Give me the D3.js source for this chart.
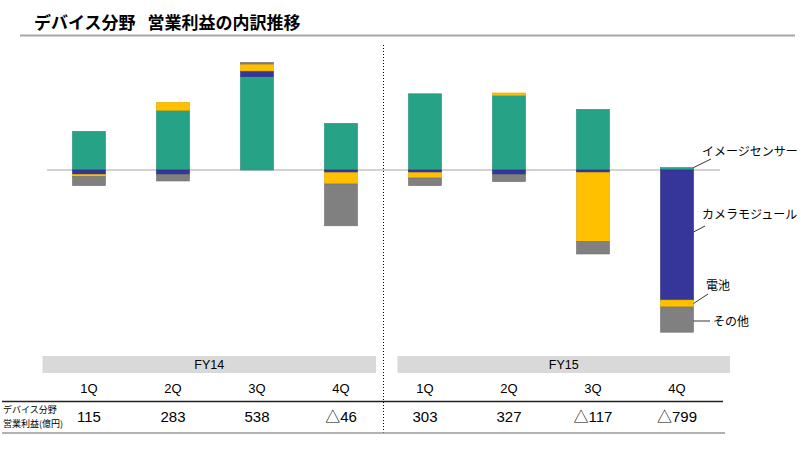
<!DOCTYPE html>
<html><head><meta charset="utf-8">
<script src="https://cdn.jsdelivr.net/npm/d3@7"></script>
<style>
body{margin:0;background:#fff;}
text{font-family:"Liberation Sans","Noto Sans CJK JP",sans-serif;}
.jp{font-family:"Noto Sans CJK JP","Liberation Sans",sans-serif;}
</style></head>
<body>
<svg id="c" width="800" height="450"></svg>
<script>
const quarters = ["FY14-1Q","FY14-2Q","FY14-3Q","FY14-4Q","FY15-1Q","FY15-2Q","FY15-3Q","FY15-4Q"];
const quarterLabels = ["1Q","2Q","3Q","4Q","1Q","2Q","3Q","4Q"];
const years = ["FY14","FY15"];
const seriesNames = ["イメージセンサー","カメラモジュール","電池","その他"];
const imageSensor = [193, 298, 467, 233, 381, 373, 303, 12];
const cameraModule = [-22, -22, 28, -13, -13, -23, -12, -650];
const battery = [-10, 40, 35, -57, -27, 12, -345, -35];
const other = [-46, -33, 8, -209, -38, -35, -63, -126];
const totalLabels = ["115","283","538","△46","303","327","△117","△799"];
const colors = ["#26A386","#35359A","#FFC000","#808080"];

const svg = d3.select("#c");
const keys = ["s0","s1","s2","s3"];
const rows = quarters.map((q,i)=>({q, s0:imageSensor[i], s1:cameraModule[i], s2:battery[i], s3:other[i]}));

const x = d3.scaleBand().domain(quarters).range([47,719]).paddingInner(0.607).paddingOuter(0.3035);
const y = d3.scaleLinear().domain([-1000, 850]).range([370, 0]);

// title
const title = svg.append("text").attr("class","jp").attr("x",34).attr("y",29).attr("font-size",17).attr("font-weight","bold").attr("fill","#000");
title.append("tspan").text("デバイス分野");
title.append("tspan").attr("dx",12).text("営業利益の内訳推移");
svg.append("line").attr("x1",20).attr("x2",795).attr("y1",35.5).attr("y2",35.5).attr("stroke","#a6a6a6").attr("stroke-width",2);

// zero line
svg.append("line").attr("x1",47).attr("x2",720).attr("y1",y(0)).attr("y2",y(0)).attr("stroke","#a6a6a6").attr("stroke-width",1);

const stack = d3.stack().keys(keys).offset(d3.stackOffsetDiverging);
const stacked = stack(rows);
stacked.forEach((layer,li)=>{
  svg.append("g").selectAll("rect").data(layer).join("rect")
    .attr("x", d=>x(d.data.q))
    .attr("width", x.bandwidth())
    .attr("y", d=>y(Math.max(d[0],d[1])))
    .attr("height", d=>Math.abs(y(d[0])-y(d[1])))
    .attr("fill", colors[li])
    .attr("stroke", d3.color(colors[li]).darker(0.4))
    .attr("stroke-width", 0.6);
});

// series labels with leader lines (pointing at last bar)
const last = rows[rows.length-1];
const lastX = x(last.q) + x.bandwidth();
const layerLast = stacked.map(l=>l[l.length-1]);
const lab = [
  {t:seriesNames[0], tx:702, ty:156, lx2:711, ly2:159, ly1: y(layerLast[0][1])},
  {t:seriesNames[1], tx:702, ty:219, lx2:705, ly2:226, ly1: 232},
  {t:seriesNames[2], tx:706, ty:290, lx2:708, ly2:294, ly1: y((layerLast[2][0]+layerLast[2][1])/2)},
  {t:seriesNames[3], tx:713, ty:326, lx2:710, ly2:321, ly1: 321}
];
lab.forEach(d=>{
  svg.append("line").attr("x1",lastX).attr("y1",d.ly1).attr("x2",d.lx2).attr("y2",d.ly2).attr("stroke","#000").attr("stroke-width",0.8);
  svg.append("text").attr("class","jp").attr("x",d.tx).attr("y",d.ty).attr("font-size",12).attr("fill","#000").text(d.t);
});

// divider
svg.append("line").attr("x1",383.5).attr("x2",383.5).attr("y1",45).attr("y2",433).attr("stroke","#000").attr("stroke-width",1).attr("stroke-dasharray","1,2");

// year bands
const yearRanges = [[42.5,376],[397.5,730]];
years.forEach((yr,i)=>{
  svg.append("rect").attr("x",yearRanges[i][0]).attr("y",356).attr("width",yearRanges[i][1]-yearRanges[i][0]).attr("height",17).attr("fill","#d9d9d9");
  svg.append("text").attr("x",(yearRanges[i][0]+yearRanges[i][1])/2).attr("y",369).attr("text-anchor","middle").attr("font-size",12.5).attr("fill","#000").text(yr);
});

// quarter labels
svg.append("g").selectAll("text").data(quarters).join("text")
  .attr("x", d=>x(d)+x.bandwidth()/2).attr("y",393).attr("text-anchor","middle").attr("font-size",13).attr("fill","#000")
  .text((d,i)=>quarterLabels[i]);

// table lines
svg.append("line").attr("x1",2).attr("x2",723).attr("y1",401.5).attr("y2",401.5).attr("stroke","#222").attr("stroke-width",1.5);
svg.append("line").attr("x1",2).attr("x2",725).attr("y1",433).attr("y2",433).attr("stroke","#999").attr("stroke-width",1.5);

// row label (two lines)
svg.append("text").attr("class","jp").attr("font-size",9).attr("fill","#000").attr("x",3).attr("y",413).text("デバイス分野");
svg.append("text").attr("class","jp").attr("font-size",9).attr("fill","#000").attr("x",3).attr("y",426.5).text("営業利益(億円)");

// totals
svg.append("g").selectAll("text").data(quarters).join("text")
  .attr("x", d=>x(d)+x.bandwidth()/2).attr("y",422).attr("text-anchor","middle").attr("font-size",15).attr("fill","#000")
  .text((d,i)=>totalLabels[i]);
</script>
</body></html>
